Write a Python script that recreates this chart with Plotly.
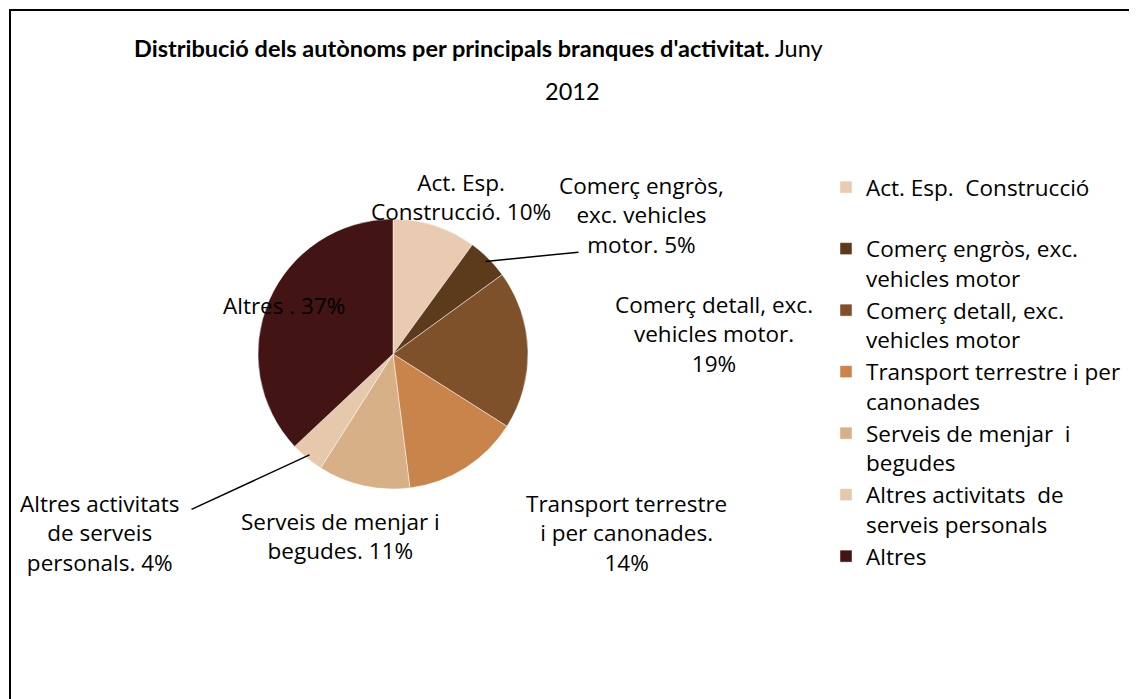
import math
import plotly.graph_objects as go

# ---- data ----
categories = [
    "Act. Esp. Construcció",
    "Comerç engròs, exc. vehicles motor",
    "Comerç detall, exc. vehicles motor",
    "Transport terrestre i per canonades",
    "Serveis de menjar i begudes",
    "Altres activitats de serveis personals",
    "Altres",
]
legend_labels = [
    "Act. Esp.  Construcció<br> ",
    "Comerç engròs, exc.<br>vehicles motor",
    "Comerç detall, exc.<br>vehicles motor",
    "Transport terrestre i per<br>canonades",
    "Serveis de menjar  i<br>begudes",
    "Altres activitats  de<br>serveis personals",
    "Altres",
]
values = [10, 5, 19, 14, 11, 4, 37]
slice_labels = [
    "Act. Esp.<br>Construcció",
    "Comerç engròs,<br>exc. vehicles<br>motor",
    "Comerç detall, exc.<br>vehicles motor.<br>",
    "Transport terrestre<br>i per canonades.<br>",
    "Serveis de menjar i<br>begudes",
    "Altres activitats<br>de serveis<br>personals",
    "Altres ",
]
colors = ["#E8CBB0", "#5C3A1C", "#7E512A", "#C8844A", "#D8B088", "#E6C8AC", "#421414"]

# page has an 8px body margin: figure coordinates = page coordinates - 8
W, H = 1129, 691
FONT = "Open Sans"
TITLE_FONT = "Lato"
FS = 22.5

# pie geometry (figure pixels)
cx, cy, R = 385, 346, 135

fig = go.Figure()
fig.add_trace(go.Pie(
    labels=legend_labels,
    values=values,
    sort=False,
    direction="clockwise",
    rotation=0,
    marker=dict(colors=colors, line=dict(color="rgba(255,255,255,0.45)", width=1)),
    textinfo="none",
    hoverinfo="label+percent",
    domain=dict(x=[(cx - R) / W, (cx + R) / W], y=[1 - (cy + R) / H, 1 - (cy - R) / H]),
))

# label centers (figure pixels) and optional leader-line tail
label_pos = [
    (453, 189, None),
    (633, 207, (572, 244)),
    (706, 326, None),
    (618, 525, None),
    (332, 528, None),
    (92, 525, (182, 502)),
    (276, 297, None),
]

total = sum(values)
annotations = []
cum = 0
for i, v in enumerate(values):
    pct = round(100 * v / total)
    if slice_labels[i].endswith("<br>"):
        text = f"{slice_labels[i]}{pct}%"
    else:
        text = f"{slice_labels[i]}. {pct}%"
    x, y, lead = label_pos[i]
    annotations.append(dict(
        x=x / W, y=1 - y / H, xref="paper", yref="paper",
        text=text, showarrow=False, align="center",
        font=dict(family=FONT, size=FS, color="#000"),
        xanchor="center", yanchor="middle",
    ))
    if lead is not None:
        mid = (cum + v / 2) / total * 2 * math.pi
        tx = cx + R * 0.97 * math.sin(mid)
        ty = cy - R * 0.97 * math.cos(mid)
        annotations.append(dict(
            x=tx / W, y=1 - ty / H, xref="paper", yref="paper",
            ax=lead[0] - tx, ay=lead[1] - ty, axref="pixel", ayref="pixel",
            text="", showarrow=True, arrowhead=0, arrowwidth=1.5, arrowcolor="#000",
        ))
    cum += v

# title (two lines, wide line spacing)
annotations.append(dict(
    x=470 / W, y=1 - 40 / H, xref="paper", yref="paper",
    text="<b>Distribució dels autònoms per principals branques d'activitat.</b> Juny",
    showarrow=False, align="center", xanchor="center", yanchor="middle",
    font=dict(family=TITLE_FONT, size=23.5, color="#000"),
))
annotations.append(dict(
    x=0.5, y=1 - 83 / H, xref="paper", yref="paper",
    text="2012",
    showarrow=False, align="center", xanchor="center", yanchor="middle",
    font=dict(family=TITLE_FONT, size=23.5, color="#000"),
))

fig.update_layout(
    width=W, height=H,
    margin=dict(l=0, r=0, t=0, b=0),
    paper_bgcolor="white",
    plot_bgcolor="white",
    showlegend=True,
    legend=dict(
        x=818 / W, y=1 - 158 / H, xanchor="left", yanchor="top",
        font=dict(family=FONT, size=FS, color="#000"),
        valign="top",
        bgcolor="rgba(0,0,0,0)",
    ),
    annotations=annotations,
    shapes=[dict(
        type="rect", xref="paper", yref="paper",
        x0=2 / W, x1=1127 / W, y0=-0.02, y1=1 - 2 / H,
        line=dict(color="#000", width=2),
    )],
)

fig.write_html("out.html")
